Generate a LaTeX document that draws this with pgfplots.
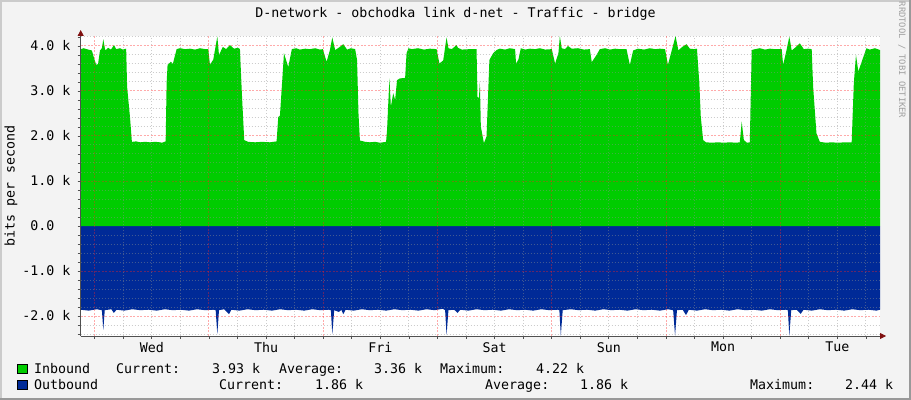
\documentclass[border=0pt]{standalone}
\usepackage{pgfplots}
\pgfplotsset{compat=1.18}
\usepackage{fontspec}
\setmainfont{DejaVu Sans Mono}
\usetikzlibrary{arrows.meta}

\definecolor{canvasbg}{HTML}{F3F3F3}
\definecolor{inbound}{HTML}{00CC00}
\definecolor{outbound}{HTML}{002A97}
\definecolor{shadea}{HTML}{CBCBCB}
\definecolor{shadeb}{HTML}{999999}
\definecolor{axisc}{HTML}{505050}
\definecolor{arrowc}{HTML}{801010}
\definecolor{mgridc}{HTML}{FF2020}
\definecolor{gridc}{HTML}{909090}
\definecolor{credit}{HTML}{A0A0A0}

\newcommand{\rf}{\fontsize{13.3bp}{15bp}\selectfont}
\newcommand{\cf}{\fontsize{8.8bp}{10bp}\selectfont}

% x = hours, 0 = Thu 00:00 ; y = thousands of bits per second
\pgfplotstableread{
h v
-26.95 3.93
-26.3 3.95
-25.4 3.92
-24.6 3.90
-24.2 3.75
-23.7 3.58
-23.3 3.60
-22.9 3.90
-22.5 3.95
-22.2 4.15
-21.8 3.90
-21.2 3.96
-20.6 3.92
-19.95 4.02
-19.5 3.93
-18.7 3.95
-18.1 3.92
-17.4 3.94
-17.2 3.09
-16.6 2.42
-16.2 1.87
-15.3 1.88
-14.5 1.86
-13.4 1.87
-12.4 1.86
-11.3 1.87
-10.3 1.86
-9.9 1.85
-9.1 1.88
-8.9 3.18
-8.7 3.58
-8.0 3.65
-7.6 3.60
-6.8 3.93
-6.1 3.95
-5.0 3.93
-4.0 3.94
-2.9 3.92
-1.9 3.95
-0.8 3.93
-0.15 3.93
0.2 3.58
0.9 3.70
1.75 4.21
2.1 3.80
2.9 3.98
3.6 3.93
4.4 4.02
5.25 3.94
6.1 3.96
6.5 3.93
6.9 2.95
7.4 1.91
8.2 1.87
9.7 1.86
11.1 1.87
12.8 1.86
14.2 1.88
14.55 2.42
14.9 2.45
15.3 3.10
15.75 3.84
16.65 3.53
17.4 3.93
18.3 3.95
19.1 3.92
20.2 3.94
21.2 3.93
22.3 3.95
23.3 3.92
23.9 3.93
24.7 3.65
25.4 3.91
25.9 4.19
26.5 3.91
27.1 3.95
28.2 4.04
29.0 3.92
29.8 3.95
30.7 3.93
31.1 3.69
31.4 2.50
31.7 1.90
32.8 1.87
33.8 1.86
34.9 1.87
35.9 1.85
37.2 1.87
37.4 2.13
37.9 3.28
38.2 2.65
38.7 2.95
39.1 2.80
39.5 3.24
40.1 3.28
41.2 3.29
41.5 3.84
41.9 3.95
42.6 3.93
43.9 3.95
45.15 3.92
46.4 3.94
47.8 3.93
48.4 3.61
49.2 3.68
49.9 4.19
50.3 3.95
51.0 3.93
52.0 4.02
52.3 3.96
53.1 3.92
54.8 3.93
56.2 3.93
56.4 2.87
56.7 2.84
56.9 3.21
57.1 2.21
57.75 1.84
58.3 1.99
58.9 3.69
59.7 3.84
60.4 3.91
61.1 3.94
62.2 3.92
63.2 3.95
64.3 3.93
64.5 3.61
65.0 3.70
65.5 3.95
66.4 3.92
67.4 3.94
68.5 3.93
69.5 3.95
70.6 3.92
72.0 3.93
72.7 3.61
73.4 3.84
73.7 4.22
74.1 3.95
74.8 3.93
75.4 4.00
76.2 3.94
77.5 3.95
78.75 3.92
80.0 3.93
80.4 3.64
81.4 3.80
82.1 3.93
83.2 3.95
84.2 3.92
85.3 3.94
86.3 3.93
87.7 3.93
88.4 3.58
89.1 3.90
90.1 3.94
91.4 3.92
92.6 3.95
93.7 3.93
94.7 3.94
95.8 3.93
96.4 3.58
97.2 3.90
98.0 4.22
98.6 3.90
99.3 3.97
100.3 4.04
101.0 3.94
101.9 3.93
102.5 3.94
103.0 3.17
103.3 2.43
103.8 1.91
104.4 1.86
105.6 1.85
106.9 1.86
108.2 1.85
109.4 1.86
110.7 1.85
111.5 1.86
111.9 2.32
112.35 1.91
113.0 1.85
113.6 1.86
114.0 3.91
114.7 3.93
115.7 3.95
116.8 3.92
117.8 3.94
118.9 3.93
120.3 3.93
120.6 3.58
121.3 3.90
121.9 4.21
122.4 3.90
123.1 3.96
124.1 4.06
124.95 3.93
125.8 3.94
126.6 3.93
126.9 3.10
127.6 2.06
128.3 1.87
129.6 1.85
130.8 1.86
132.1 1.85
133.6 1.86
135.0 1.86
135.45 3.17
135.9 3.80
136.4 3.43
137.1 3.65
138.1 3.95
138.8 3.92
139.9 3.95
140.95 3.91
}\inboundtable

\pgfplotstableread{
h v
-26.95 -1.86
-25.3 -1.88
-23.6 -1.85
-22.5 -1.87
-22.2 -2.31
-21.9 -1.87
-20.5 -1.85
-20.0 -1.93
-19.4 -1.86
-17.8 -1.88
-16.1 -1.85
-14.4 -1.87
-12.7 -1.86
-11.0 -1.88
-9.3 -1.85
-7.6 -1.87
-5.9 -1.86
-4.2 -1.88
-2.5 -1.85
-0.8 -1.87
0.9 -1.86
1.4 -1.87
1.75 -2.40
2.1 -1.87
3.2 -1.85
4.2 -1.96
4.7 -1.86
6.4 -1.88
8.1 -1.85
9.8 -1.87
11.5 -1.86
13.2 -1.88
14.9 -1.85
16.6 -1.87
18.3 -1.86
20.0 -1.88
21.7 -1.85
23.4 -1.87
25.1 -1.86
25.6 -1.87
25.9 -2.40
26.3 -1.87
27.3 -1.91
27.8 -1.86
28.2 -1.96
28.7 -1.86
30.4 -1.88
32.1 -1.85
33.8 -1.87
35.5 -1.86
37.2 -1.88
38.9 -1.85
40.6 -1.87
42.3 -1.86
44.0 -1.88
45.7 -1.85
47.4 -1.87
49.1 -1.84
49.6 -1.87
49.9 -2.42
50.3 -1.87
51.5 -1.86
52.2 -1.93
52.8 -1.86
54.5 -1.88
56.2 -1.85
57.9 -1.87
59.6 -1.86
61.3 -1.88
63.0 -1.85
64.7 -1.87
66.4 -1.86
68.1 -1.88
69.8 -1.85
71.5 -1.87
73.2 -1.86
73.6 -1.87
73.9 -2.44
74.3 -1.87
76.0 -1.85
77.7 -1.87
79.4 -1.86
81.1 -1.88
82.8 -1.85
84.5 -1.87
86.2 -1.86
87.9 -1.88
89.6 -1.85
91.3 -1.87
93.0 -1.86
94.7 -1.88
96.4 -1.85
97.5 -1.87
97.9 -2.44
98.3 -1.87
99.5 -1.86
100.2 -1.98
100.8 -1.86
102.5 -1.88
104.2 -1.85
105.9 -1.87
107.6 -1.86
109.3 -1.88
111.0 -1.85
112.7 -1.87
114.4 -1.86
116.1 -1.88
117.8 -1.85
119.5 -1.87
121.2 -1.86
121.6 -1.87
121.9 -2.44
122.3 -1.87
123.4 -1.86
124.3 -1.95
124.9 -1.86
126.6 -1.88
128.3 -1.85
130.0 -1.87
131.7 -1.86
133.4 -1.88
135.1 -1.85
136.8 -1.87
138.5 -1.86
140.2 -1.88
140.95 -1.86
}\outboundtable

\tikzset{
  gridminor/.style={gridc, draw opacity=0.45, line width=1bp, dash pattern=on 1.5bp off 1.5bp},
  gridmajor/.style={mgridc, draw opacity=0.38, line width=1bp, dash pattern=on 2bp off 1.5bp},
}

\begin{document}
\begin{tikzpicture}
\path[use as bounding box] (0,0) rectangle (911bp,400bp);
\fill[canvasbg] (0,0) rectangle (911bp,400bp);
% 3d frame
\fill[shadea] (0,0) rectangle (2bp,400bp);
\fill[shadea] (0,398bp) rectangle (911bp,400bp);
\fill[shadeb] (0,0) rectangle (911bp,2bp);
\fill[shadeb] (909bp,0) rectangle (911bp,400bp);

\begin{axis}[
    at={(80.7bp,64bp)}, anchor=south west,
    scale only axis,
    width=799.3bp, height=300bp,
    xmin=-26.95, xmax=140.95,
    ymin=-2.444, ymax=4.222,
    axis background/.style={fill=white},
    axis on top,
    axis lines=left,
    axis line style={axisc, line width=0.8bp},
    every outer x axis line/.append style={-{Triangle[length=6bp,width=6bp,color=arrowc]}, shorten >=-6bp},
    every outer y axis line/.append style={-{Triangle[length=6bp,width=6bp,color=arrowc]}, shorten >=-6bp},
    xtick={-12,12,36,60,84,108,132},
    xticklabels={Wed,Thu,Fri,Sat,Sun,Mon,Tue},
    minor xtick={-18,-6,6,18,30,42,54,66,78,90,102,114,126,138},
    extra x ticks={-24,0,24,48,72,96,120},
    extra x tick labels={},
    extra x tick style={xmajorgrids=true, major grid style={gridmajor}},
    ytick={-2,-1,0,1,2,3,4},
    yticklabels={-2.0 k,-1.0 k,0.0\phantom{\ k},1.0 k,2.0 k,3.0 k,4.0 k},
    minor ytick={-2.4,-2.2,-1.8,-1.6,-1.4,-1.2,-0.8,-0.6,-0.4,-0.2,0.2,0.4,0.6,0.8,1.2,1.4,1.6,1.8,2.2,2.4,2.6,2.8,3.2,3.4,3.6,3.8,4.2},
    xmajorgrids=true, xminorgrids=true,
    ymajorgrids=false, yminorgrids=true,
    minor grid style={gridminor},
    major grid style={gridminor},
    extra y ticks={-2,-1,1,2,3,4},
    extra y tick labels={},
    extra y tick style={ymajorgrids=true, major grid style={gridmajor}},
    tick align=outside,
    major tick length=3bp, minor tick length=3bp,
    tick style={axisc, line width=0.8bp},
    tick label style={font=\rf, inner sep=0pt},
    yticklabel style={anchor=east, xshift=-7bp},
    xticklabel style={anchor=north, yshift=-3bp},
]
\addplot[fill=outbound, draw=none] table[x=h, y=v] {\outboundtable} \closedcycle;
\addplot[fill=inbound, draw=none] table[x=h, y=v] {\inboundtable} \closedcycle;
\end{axis}

% title, axis label, credit
\node[font=\rf, inner sep=0pt] at (455.5bp,386bp) {D-network - obchodka link d-net - Traffic - bridge};
\node[font=\rf, inner sep=0pt, rotate=90] at (11bp,214bp) {bits per second};
\node[text=credit, inner sep=0pt, rotate=-90] at (902bp,340bp) {\cf RRDTOOL / TOBI OETIKER};

% legend
\filldraw[fill=inbound, draw=black, line width=0.8bp] (17.3bp,26.7bp) rectangle (27.3bp,35.7bp);
\filldraw[fill=outbound, draw=black, line width=0.8bp] (17.3bp,10.7bp) rectangle (27.3bp,20bp);
\begin{scope}[every node/.style={font=\rf, inner sep=0pt, anchor=base west}]
\node at (34bp,26.7bp) {Inbound};
\node at (116bp,26.7bp) {Current:};
\node at (212bp,26.7bp) {3.93 k};
\node at (279bp,26.7bp) {Average:};
\node at (374bp,26.7bp) {3.36 k};
\node at (440bp,26.7bp) {Maximum:};
\node at (536bp,26.7bp) {4.22 k};
\node at (34bp,10.7bp) {Outbound};
\node at (219bp,10.7bp) {Current:};
\node at (315bp,10.7bp) {1.86 k};
\node at (485bp,10.7bp) {Average:};
\node at (580bp,10.7bp) {1.86 k};
\node at (750bp,10.7bp) {Maximum:};
\node at (845bp,10.7bp) {2.44 k};
\end{scope}
\end{tikzpicture}
\end{document}
